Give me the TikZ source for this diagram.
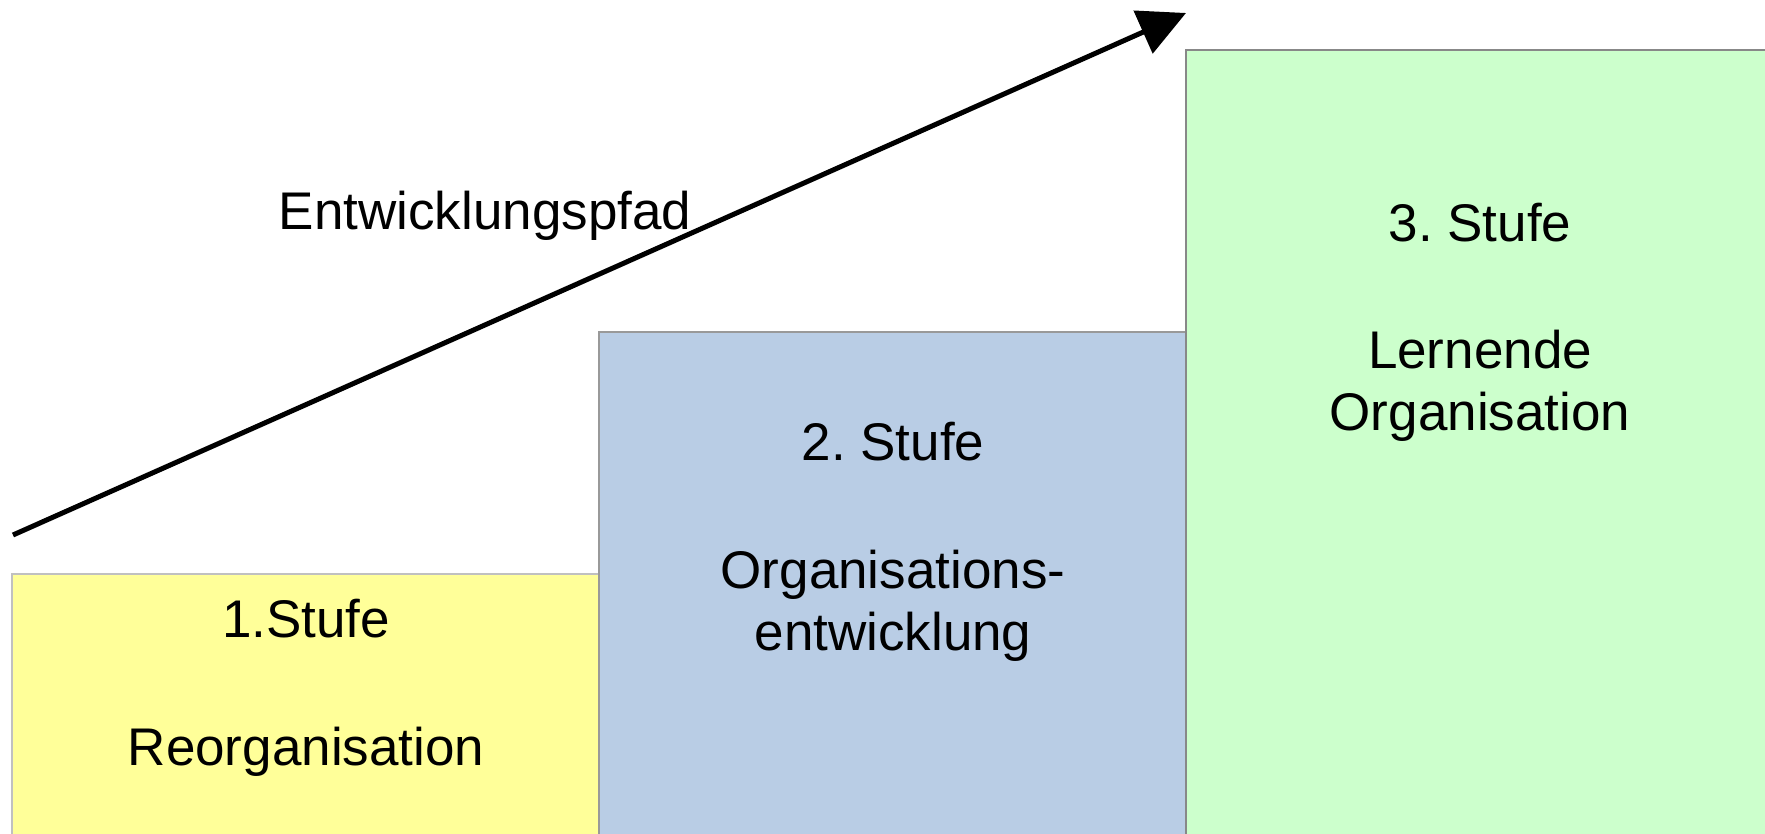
\documentclass[tikz,border=0pt]{standalone}
\usepackage{fontspec}
\setmainfont{Liberation Sans}
\usetikzlibrary{arrows.meta}
\frenchspacing
\definecolor{cyellow}{HTML}{FFFF99}
\definecolor{cblue}{HTML}{B9CDE5}
\definecolor{cgreen}{HTML}{CCFFCC}
\definecolor{bord1}{HTML}{C0C0C0}
\definecolor{bord2}{HTML}{999999}
\definecolor{bord3}{HTML}{888888}
\begin{document}
\begin{tikzpicture}[x=1pt,y=-1pt,
  txt/.style={anchor=base,inner sep=0pt,font=\fontsize{53}{62}\selectfont},
  stufebox/.style={line width=2pt}]
\useasboundingbox (0,0) rectangle (1765,834);
\fill[white] (0,0) rectangle (1765,834);
\filldraw[stufebox,fill=cyellow,draw=bord1] (12,574) rectangle (599,860);
\filldraw[stufebox,fill=cblue,draw=bord2] (599,332) rectangle (1186,860);
\filldraw[stufebox,fill=cgreen,draw=bord3] (1186,50) rectangle (1773,860);
\coordinate (a0) at (13,535);
\coordinate (a1) at (1186,13);
\draw[line width=5pt,-{Triangle[length=47pt,width=46pt]}] (a0) -- (a1);
\node[txt] (path) at (485,230) {Entwicklungspfad};
\node[txt] (s1) at (306,637) {1.Stufe};
\node[txt] (l1) at (306,765) {Reorganisation};
\node[txt] (s2) at (893,460) {2.\ Stufe};
\node[txt] (l2a) at (893,588) {Organisations-};
\node[txt] (l2b) at (893,650) {entwicklung};
\node[txt] (s3) at (1480,242) {3.\ Stufe};
\node[txt] (l3a) at (1480,368) {Lernende};
\node[txt] (l3b) at (1480,430) {Organisation};
\end{tikzpicture}
\end{document}
